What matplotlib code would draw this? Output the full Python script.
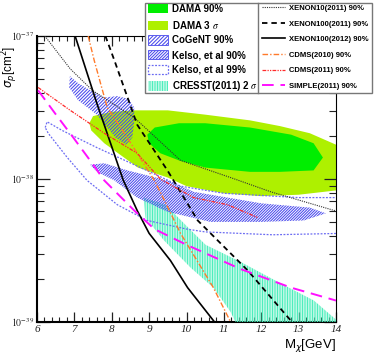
import numpy as np
import matplotlib
matplotlib.use("Agg")
import matplotlib.pyplot as plt
from matplotlib.patches import Patch, Rectangle
from matplotlib.lines import Line2D
from matplotlib.ticker import FixedLocator, NullFormatter

# ── data (x = WIMP mass in GeV, y = log10 of cross section in cm^2) ──────────
dama3_x = [7.40, 7.50, 8.00, 8.60, 9.50, 10.5, 11.7, 12.5, 13.3, 14.0, 14.2,
           14.2, 14.0, 13.0, 12.0, 11.0, 10.0, 9.50, 8.70, 7.80, 7.45]
dama3_y = [-37.61, -37.56, -37.53, -37.52, -37.52, -37.55, -37.59, -37.63, -37.68, -37.76, -37.78,
           -38.07, -38.08, -38.11, -38.12, -38.10, -38.05, -37.99, -37.92, -37.75, -37.66]

dama90_x = [8.95, 9.15, 9.80, 10.5, 11.7, 12.8, 13.4, 13.65, 13.4, 12.5, 11.7, 10.5, 9.80, 9.30, 9.00]
dama90_y = [-37.69, -37.64, -37.61, -37.61, -37.64, -37.69, -37.75, -37.85, -37.94, -37.95, -37.95,
            -37.92, -37.87, -37.82, -37.75]

cogent_x = [6.88, 7.10, 7.50, 7.80, 8.15, 8.45, 8.60, 8.60, 8.55, 8.38, 8.10, 7.60, 7.10, 6.86]
cogent_y = [-37.28, -37.33, -37.39, -37.43, -37.42, -37.44, -37.50, -37.60, -37.71, -37.76,
            -37.71, -37.55, -37.45, -37.36]

kelso90_x = [7.42, 7.80, 8.42, 9.49, 10.2, 12.0, 13.3, 13.73, 13.14, 12.0, 10.64, 9.50, 8.68, 8.07, 7.61]
kelso90_y = [-37.90, -37.89, -37.94, -38.01, -38.09, -38.17, -38.20, -38.24, -38.29, -38.30,
             -38.30, -38.23, -38.13, -38.01, -37.95]

kelso99_x = [6.22, 6.27, 6.67, 7.60, 8.77, 9.84, 11.0, 13.0, 14.2,
             14.2, 12.3, 10.5, 10.0, 8.95, 8.15, 7.34, 6.81, 6.30, 6.22]
kelso99_y = [-37.64, -37.60, -37.66, -37.78, -37.92, -38.05, -38.10, -38.13, -38.13,
             -38.38, -38.39, -38.37, -38.35, -38.29, -38.18, -38.01, -37.85, -37.68, -37.64]

cresst_x = [8.85, 9.44, 9.97, 10.51, 11.45, 12.52, 13.41, 14.03, 14.03, 11.40, 11.18, 10.72, 10.11, 9.40, 8.90]
cresst_y = [-38.13, -38.18, -38.32, -38.46, -38.58, -38.73, -38.85, -38.99, -39.05, -39.05,
            -38.93, -38.76, -38.62, -38.43, -38.27]

xe10_x = [6.21, 6.89, 7.48, 8.60, 9.84, 11.18, 12.26, 13.95, 14.0]
xe10_y = [-37.00, -37.23, -37.38, -37.57, -37.87, -37.99, -38.09, -38.22, -38.22]

xe100_11_x = [7.83, 8.07, 8.68, 9.49, 10.30, 11.64, 12.79]
xe100_11_y = [-37.00, -37.17, -37.62, -37.94, -38.29, -38.64, -38.99]

xe100_12_x = [7.02, 7.60, 8.31, 8.68, 9.00, 9.57, 10.03, 10.75]
xe100_12_y = [-37.00, -37.47, -38.01, -38.22, -38.38, -38.57, -38.76, -39.00]

cdms10_x = [7.37, 7.53, 7.72, 7.88, 8.34, 8.68, 9.14, 9.41, 9.84, 10.72, 11.18]
cdms10_y = [-37.00, -37.17, -37.35, -37.50, -37.68, -37.82, -38.01, -38.15, -38.38, -38.76, -39.00]

cdms11_x = [6.03, 6.89, 7.80, 8.68, 9.30, 10.19, 11.10, 11.91]
cdms11_y = [-37.36, -37.52, -37.68, -37.82, -38.00, -38.13, -38.18, -38.27]

simple_x = [6.03, 6.48, 6.97, 7.42, 7.80, 8.60, 9.14, 10.0, 11.45, 12.8, 14.0]
simple_y = [-37.38, -37.54, -37.71, -37.87, -38.01, -38.22, -38.35, -38.46, -38.63, -38.76, -38.85]

x_ticks = [6, 7, 8, 9, 10, 11, 12, 13, 14]
y_ticks = [1e-39, 1e-38, 1e-37]
y_tick_labels = [r"$\mathit{10}^{\mathit{-39}}$", r"$\mathit{10}^{\mathit{-38}}$", r"$\mathit{10}^{\mathit{-37}}$"]

# ── colours ────────────────────────────────────────────────────────────────
c_dama90 = "#00ee00"
c_dama3 = "#aef000"
c_blue = "#4a4aec"
c_cresst = "#4eeebc"

plt.rcParams["hatch.linewidth"] = 0.75

fig = plt.figure(figsize=(3.74, 3.59), dpi=100)
ax = fig.add_axes([37/374, 37/359, 299/374, 286/359])

def ten(v):
    return np.power(10.0, v)

h_dama3 = ax.fill(dama3_x, ten(dama3_y), color=c_dama3, lw=0, zorder=1)[0]
h_dama90 = ax.fill(dama90_x, ten(dama90_y), color=c_dama90, lw=0, zorder=2)[0]
h_cresst = ax.fill(cresst_x, ten(cresst_y), facecolor="none", edgecolor=c_cresst, lw=0,
                   hatch="|" * 10, zorder=3)[0]
h_cogent = ax.fill(cogent_x, ten(cogent_y), facecolor="none", edgecolor=c_blue, lw=0,
                   hatch="/" * 10, zorder=3)[0]
h_kelso90 = ax.fill(kelso90_x, ten(kelso90_y), facecolor="none", edgecolor=c_blue, lw=0,
                    hatch="/" * 12, zorder=3)[0]
h_kelso99 = ax.fill(kelso99_x, ten(kelso99_y), facecolor="none", edgecolor="#6b6bf2", lw=0.9,
                    ls=(0, (1.5, 1.2)), zorder=4)[0]

l_xe10, = ax.plot(xe10_x, ten(xe10_y), color="#333333", lw=0.8, ls=(0, (1, 1)), zorder=5)
l_xe11, = ax.plot(xe100_11_x, ten(xe100_11_y), color="black", lw=1.3, ls=(0, (3, 2.2)), zorder=5)
l_xe12, = ax.plot(xe100_12_x, ten(xe100_12_y), color="black", lw=1.2, zorder=5)
l_cd10, = ax.plot(cdms10_x, ten(cdms10_y), color="#ff7a2a", lw=1.0, ls=(0, (4, 1.5, 1, 1.5)), zorder=5)
l_cd11, = ax.plot(cdms11_x, ten(cdms11_y), color="#ff2a2a", lw=0.9, ls=(0, (3, 1, 1, 1, 1, 1)), zorder=5)
l_simple, = ax.plot(simple_x, ten(simple_y), color="#ff10ff", lw=1.4, ls=(0, (6, 3.5)), zorder=5)

ax.set_xlim(6, 14)
ax.set_yscale("log")
ax.set_ylim(1e-39, 1e-37)

ax.xaxis.set_major_locator(FixedLocator(x_ticks))
ax.xaxis.set_minor_locator(FixedLocator(np.arange(6, 14.01, 0.2)))
ax.set_xticklabels([str(t) for t in x_ticks], family="Liberation Serif", style="italic", fontsize=8)
ax.yaxis.set_major_locator(FixedLocator(y_ticks))
ax.yaxis.set_minor_locator(FixedLocator([m * 10.0 ** e for e in (-39, -38) for m in range(2, 10)]))
ax.yaxis.set_minor_formatter(NullFormatter())
ax.set_yticklabels(y_tick_labels, fontsize=7)
for lbl in ax.get_yticklabels():
    lbl.set_math_fontfamily("stix")

ax.tick_params(which="both", direction="in", top=True, right=True, colors="#222222", pad=2)
ax.tick_params(axis="x", which="major", length=7, width=0.9)
ax.tick_params(axis="x", which="minor", length=3.5, width=0.8)
ax.tick_params(axis="y", which="major", length=9, width=0.9)
ax.tick_params(axis="y", which="minor", length=5, width=0.8)
for side in ["left", "bottom"]:
    ax.spines[side].set_linewidth(1.5)
for side in ["right", "top"]:
    ax.spines[side].set_linewidth(0.8)

fig.text(10/374, 1 - 67/359, r"$\sigma_{p}$[cm$^{2}$]", rotation=90, ha="center", va="center",
         fontsize=8.5, family="Liberation Sans", math_fontfamily="dejavusans")
fig.text(336/374, 1 - 346/359, r"M$_{\chi}$[GeV]", ha="right", va="center",
         fontsize=9.5, family="Liberation Sans", math_fontfamily="dejavusans")

# ── legend (two columns in one framed box, sitting over the top right) ──────
box = Rectangle((145/374, 1 - 93/359), 227/374, 90/359, transform=fig.transFigure,
                facecolor="white", edgecolor="#777777", lw=1.0, zorder=10)
fig.add_artist(box)
fig.add_artist(Line2D([258/374, 258/374], [1 - 93/359, 1 - 3/359], transform=fig.transFigure,
                      color="#777777", lw=1.0, zorder=11))

left_handles = [
    Patch(facecolor=c_dama90, edgecolor=c_dama90, lw=0),
    Patch(facecolor=c_dama3, edgecolor=c_dama3, lw=0),
    Patch(facecolor="white", edgecolor=c_blue, lw=0.6, hatch="/" * 9),
    Patch(facecolor="white", edgecolor=c_blue, lw=0.6, hatch="/" * 11),
    Patch(facecolor="white", edgecolor="#6b6bf2", lw=0.9, ls=(0, (1.5, 1.2))),
    Patch(facecolor="white", edgecolor=c_cresst, lw=0, hatch="|" * 10),
]
left_labels = ["DAMA 90%", r"DAMA 3 $\sigma$", "CoGeNT 90%", "Kelso, et al 90%",
               "Kelso, et al 99%", r"CRESST(2011) 2 $\sigma$"]
leg1 = fig.legend(left_handles, left_labels, loc="upper left",
                  bbox_to_anchor=(148/374, 1 - 4/359), frameon=False,
                  prop={"family": "Liberation Sans", "weight": "bold", "size": 7},
                  handlelength=2.1, handleheight=1.1, handletextpad=0.35,
                  labelspacing=0.48, borderpad=0.0, borderaxespad=0)
leg1.set_zorder(12)

right_handles = [l_xe10, l_xe11, l_xe12, l_cd10, l_cd11, l_simple]
right_labels = ["XENON10(2011) 90%", "XENON100(2011) 90%", "XENON100(2012) 90%",
                "CDMS(2010) 90%", "CDMS(2011) 90%", "SIMPLE(2011) 90%"]
leg2 = fig.legend(right_handles, right_labels, loc="upper left",
                  bbox_to_anchor=(261/374, 1 - 4/359), frameon=False,
                  prop={"family": "Liberation Sans", "weight": "bold", "size": 5.5},
                  handlelength=3.0, handletextpad=0.6,
                  labelspacing=1.07, borderpad=0.1, borderaxespad=0)
leg2.set_zorder(12)
for t in leg1.get_texts() + leg2.get_texts():
    t.set_math_fontfamily("stix")

fig.savefig("out.png", dpi=100)
